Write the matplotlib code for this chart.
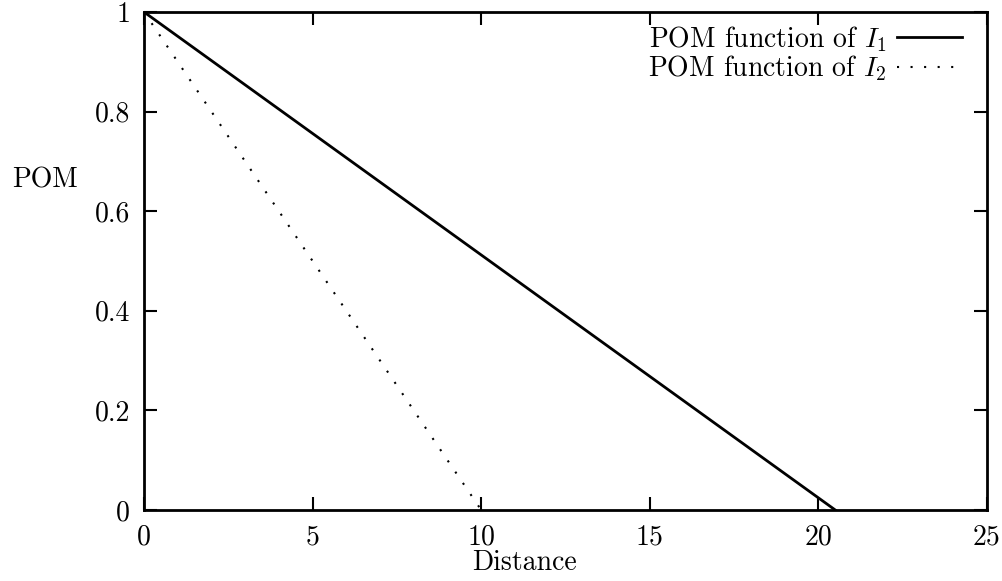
import matplotlib
matplotlib.use("Agg")
from matplotlib import pyplot as plt

# Data
i1_distance = [0, 20.5]
i1_pom = [1, 0]
i2_distance = [0, 10]
i2_pom = [1, 0]

x_ticks = [0, 5, 10, 15, 20, 25]
x_tick_labels = ["0", "5", "10", "15", "20", "25"]
y_ticks = [0, 0.2, 0.4, 0.6, 0.8, 1]
y_tick_labels = ["0", "0.2", "0.4", "0.6", "0.8", "1"]

plt.rcParams["font.family"] = "cmr10"
plt.rcParams["mathtext.fontset"] = "cm"
plt.rcParams["axes.unicode_minus"] = False

fig = plt.figure(figsize=(10.03, 5.81), dpi=100)
ax = fig.add_axes([144 / 1003, 71 / 581, 843 / 1003, 498 / 581])

ax.plot(i1_distance, i1_pom, color="black", lw=2.0, label=r"POM function of $I_1$")
ax.plot(i2_distance, i2_pom, color="black", lw=1.5, linestyle=(0, (1, 5.5)),
        label=r"POM function of $I_2$")

ax.set_xlim(0, 25)
ax.set_ylim(0, 1)
ax.set_xticks(x_ticks)
ax.set_xticklabels(x_tick_labels)
ax.set_yticks(y_ticks)
ax.set_yticklabels(y_tick_labels)
ax.tick_params(direction="in", length=9.5, width=1.5, labelsize=20,
               top=True, right=True, pad=10)
for spine in ax.spines.values():
    spine.set_linewidth(2.0)

fig.text(12 / 1003, 1 - 180 / 581, "POM", fontsize=20, ha="left", va="center")
fig.text(524 / 1003, 1 - 563 / 581, "Distance", fontsize=20, ha="center", va="center")

# legend placed in the top right, sample line after the text
ax.legend(loc="upper right", bbox_to_anchor=(1 - 25 / 843, 1 - 12 / 498),
          frameon=False, markerfirst=False, fontsize=20,
          handlelength=2.35, handletextpad=0.36, labelspacing=0.0,
          borderpad=0.0, borderaxespad=0.0)

fig.savefig("out.png", dpi=100)
